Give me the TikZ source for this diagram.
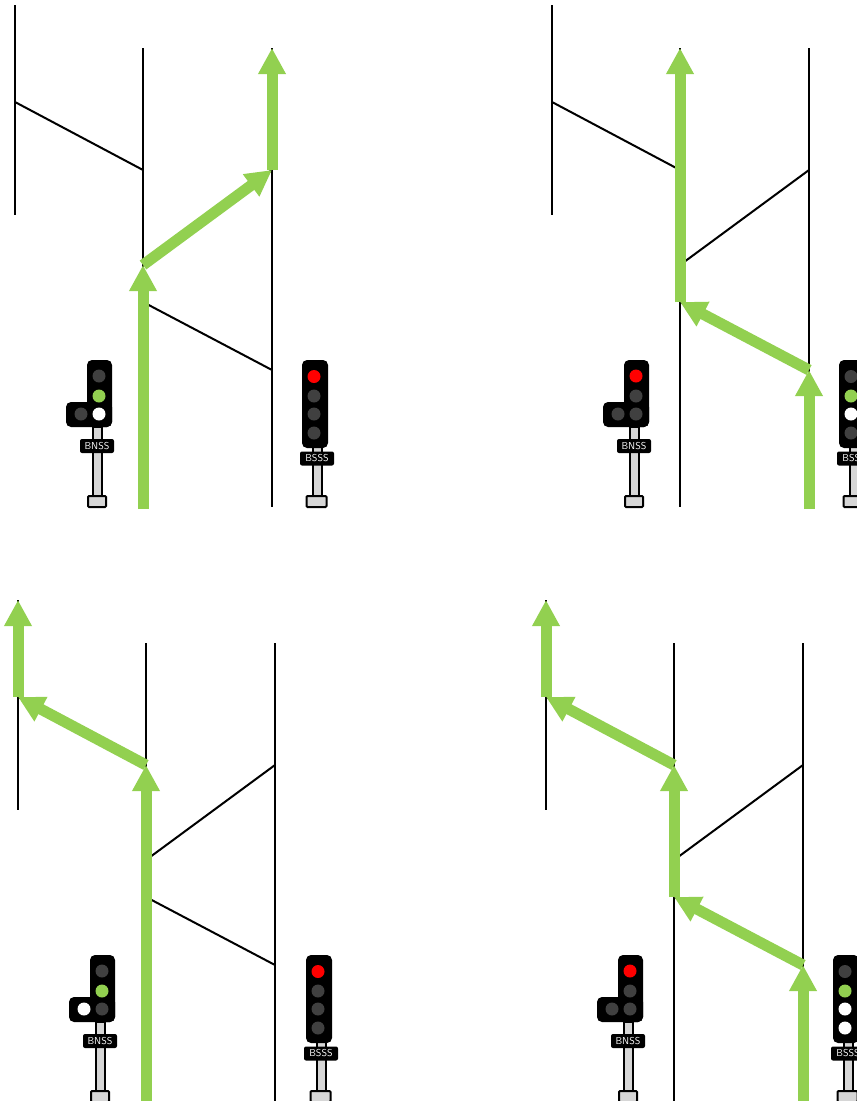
\documentclass[tikz,border=0pt]{standalone}
\usetikzlibrary{arrows.meta}
\definecolor{routegreen}{RGB}{146,208,80}
\definecolor{lampoff}{RGB}{64,64,64}
\definecolor{postgrey}{RGB}{214,214,214}

\begin{document}
\begin{tikzpicture}[x=1pt,y=-1pt,
  trk/.style={line width=2pt,black},
  route/.style={line width=11pt,routegreen,-{Triangle[length=26pt,width=26pt]}},
  lamp/.style={circle,fill=#1,minimum size=13pt,inner sep=0pt},
  head/.style={draw=none,fill=black,rounded corners=5pt,minimum width=#1,inner sep=0pt},
  plate/.style={fill=black,text=white,rounded corners=2pt,minimum width=34pt,minimum height=14pt,inner sep=0pt,font=\fontsize{10}{10}\selectfont\sffamily},
  post/.style={draw=black,line width=2pt,fill=postgrey,minimum width=9pt,inner sep=0pt},
  base/.style={draw=black,line width=2pt,fill=postgrey,rounded corners=1pt,minimum width=18pt,minimum height=11pt,inner sep=0pt}]
  \useasboundingbox (0,0) rectangle (857,1101);
  \clip (0,0) rectangle (857,1101);
  % --- tracks and signals, one panel each ---
  \foreach \n/\dx/\dy/\sx/\ca/\cb/\cc/\cd/\ce/\cf/\cg/\ch in {
      a/0/0/0/lampoff/routegreen/white/lampoff/red/lampoff/lampoff/lampoff,
      b/537/0/0/red/lampoff/lampoff/lampoff/lampoff/routegreen/white/lampoff,
      c/3/595/1/lampoff/routegreen/lampoff/white/red/lampoff/lampoff/lampoff,
      d/531/595/0/red/lampoff/lampoff/lampoff/lampoff/routegreen/white/white}{
    \begin{scope}[xshift=\dx,yshift=-\dy]
      \coordinate (\n1) at (15,5);
      \coordinate (\n2) at (15,215);
      \coordinate (\n3) at (15,102);
      \coordinate (\n4) at (143,170);
      \coordinate (\n5) at (143,48);
      \coordinate (\n6) at (143,507);
      \coordinate (\n7) at (272,48);
      \coordinate (\n8) at (272,507);
      \coordinate (\n9) at (143,265);
      \coordinate (\n10) at (272,170);
      \coordinate (\n11) at (143,302);
      \coordinate (\n12) at (272,370);
      \coordinate (\n13) at (143,509);
      \coordinate (\n14) at (272,509);
      \draw[trk] (\n1) -- (\n2);
      \draw[trk] (\n5) -- (\n6);
      \draw[trk] (\n7) -- (\n8);
      \draw[trk] (\n3) -- (\n4);
      \draw[trk] (\n9) -- (\n10);
      \draw[trk] (\n11) -- (\n12);
      % left signal
      \node[post,minimum height=70pt] (\n p1) at (97.5,462) {};
      \node[base] (\n f1) at (97,501.5) {};
      \node[head=25pt,minimum height=67pt] (\n h1) at (99.5,393.5) {};
      \node[head=46pt,minimum height=25pt] (\n h2) at (89,414.5) {};
      \node[lamp=\ca] (\n l1) at (99,376) {};
      \node[lamp=\cb] (\n l2) at (99,396) {};
      \node[lamp=\cc] (\n l3) at (99,414) {};
      \node[lamp=\cd] (\n l4) at (81,414) {};
      \node[plate] (\n t1) at (97,446) {BNSS};
      % right signal
      \begin{scope}[xshift=\sx]
        \node[post,minimum height=50pt] (\n p2) at (317.5,472) {};
        \node[base,minimum width=20pt] (\n f2) at (316.5,501.5) {};
        \node[head=26pt,minimum height=88pt] (\n h3) at (315,404) {};
        \node[lamp=\ce] (\n l5) at (314,376.5) {};
        \node[lamp=\cf] (\n l6) at (314,396) {};
        \node[lamp=\cg] (\n l7) at (314,414) {};
        \node[lamp=\ch] (\n l8) at (314,433) {};
        \node[plate] (\n t2) at (317,458.5) {BSSS};
      \end{scope}
    \end{scope}
  }
  % --- panel 1: routes ---
  \draw[route] (a13) -- (a9);
  \draw[route] (a9) -- (a10);
  \draw[route] (a10) -- (a7);
  % --- panel 2: routes ---
  \draw[route] (b14) -- (b12);
  \draw[route] (b12) -- (b11);
  \draw[route] (b11) -- (b5);
  % --- panel 3: routes ---
  \draw[route] (c13) -- (c4);
  \draw[route] (c4) -- (c3);
  \draw[route] (c3) -- (c1);
  % --- panel 4: routes ---
  \draw[route] (d14) -- (d12);
  \draw[route] (d12) -- (d11);
  \draw[route] (d11) -- (d4);
  \draw[route] (d4) -- (d3);
  \draw[route] (d3) -- (d1);
\end{tikzpicture}
\end{document}
